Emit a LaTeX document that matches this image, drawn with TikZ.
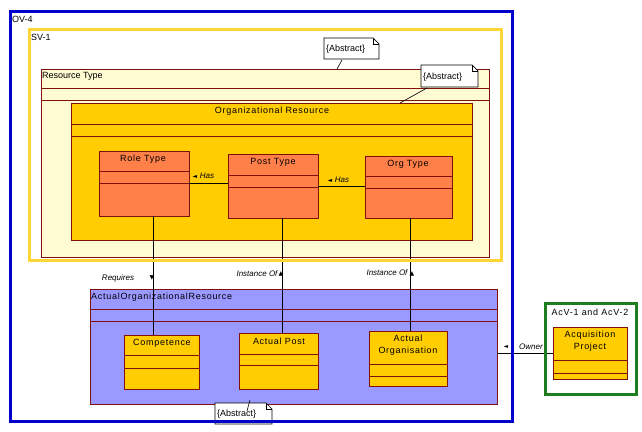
\documentclass[tikz,border=0pt]{standalone}
\usepackage{fontspec}
\setmainfont{Liberation Sans}
\newfontfamily\spfont[LetterSpace=8]{Liberation Sans}
\newfontfamily\dvfont{DejaVu Sans}
\definecolor{ovblue}{HTML}{0000CC}
\definecolor{svyellow}{HTML}{FFD633}
\definecolor{rtfill}{HTML}{FFFBD2}
\definecolor{bord}{HTML}{801010}
\definecolor{gold}{HTML}{FFCD00}
\definecolor{coral}{HTML}{FF8048}
\definecolor{lilac}{HTML}{9999FF}
\definecolor{acgreen}{HTML}{1E7D1E}
\tikzset{
  frame/.style={line width=3pt},
  cls/.style={draw=bord, line width=0.8pt, inner sep=0pt, outer sep=0pt, anchor=north west},
  cline/.style={draw=bord, line width=0.8pt},
  ttl/.style={font=\spfont\fontsize{9}{11}\selectfont, inner sep=0pt, align=center},
  plain/.style={font=\fontsize{9}{11}\selectfont, inner sep=0pt},
  lbl/.style={font=\itshape\fontsize{8}{9}\selectfont, inner sep=0pt},
  mk/.style={font=\dvfont\fontsize{6}{6}\selectfont, inner sep=0pt},
  conn/.style={line width=0.8pt, black},
  notepoly/.style={draw=black, fill=white, line width=0.7pt},
  noteline/.style={draw=black, line width=0.6pt}
}
\newcommand\umlcls[8]{%
  \node[cls, fill=#6, minimum width={(#4-#2)*1pt}, minimum height={(#5-#3)*1pt}] (#1) at (#2,#3) {};
  \draw[cline] (#1.west |- 0,#7) -- (#1.east |- 0,#7);
  \draw[cline] (#1.west |- 0,#8) -- (#1.east |- 0,#8);
}
\newcommand\abstractnote[5]{%
  \draw[notepoly] (#2,#3) -- ({#4-6},#3) -- (#4,{#3+6}) -- (#4,#5) -- (#2,#5) -- cycle;
  \draw[notepoly, fill=none] ({#4-6},#3) -- ({#4-6},{#3+6}) -- (#4,{#3+6});
  \node[plain, anchor=west] (#1) at ({#2+2},{(#3+#5)/2+1}) {\{Abstract\}};
}
\begin{document}
\begin{tikzpicture}[x=1pt, y=-1pt]
\fill[white] (0,0) rectangle (642,431);
\useasboundingbox (0,0) rectangle (642,431);

% Resource Type
\umlcls{RT}{41}{69}{489}{257}{rtfill}{88}{100}
\node[plain, anchor=west] (RTt) at (42,76) {Resource Type};
% Organizational Resource
\umlcls{OR}{71}{103}{472}{240}{gold}{124}{136}
\node[ttl] (ORt) at (272,111) {Organizational Resource};
% types
\umlcls{Role}{99}{151}{189}{216}{coral}{171}{183}
\node[ttl] (Rolet) at (143,159) {Role Type};
\umlcls{Post}{228}{154}{318}{218}{coral}{175}{187}
\node[ttl] (Postt) at (273,162) {Post Type};
\umlcls{Org}{365}{156}{452}{218}{coral}{176}{188}
\node[ttl] (Orgt) at (408,164) {Org Type};

% Actual Organizational Resource
\umlcls{AOR}{90}{289}{497}{404}{lilac}{309}{321}
\node[ttl, anchor=west] (AORt) at (91,297) {ActualOrganizationalResource};
\umlcls{Comp}{124}{335}{199}{389}{gold}{355}{368}
\node[ttl] (Compt) at (162,343) {Competence};
\umlcls{APost}{239}{333}{318}{389}{gold}{354}{365}
\node[ttl] (APostt) at (279,341) {Actual Post};
\umlcls{AOrg}{369}{331}{447}{386}{gold}{364}{376}
\node[ttl] (AOrgt) at (408,345) {Actual\\[1pt]Organisation};

% Acquisition
\umlcls{AcqP}{553}{327}{627}{379}{gold}{360}{373}
\node[ttl] (AcqPt) at (590,341) {Acquisition\\[1pt]Project};
\node[ttl] (AcVt) at (590,312) {AcV-1 and AcV-2};

% connectors
\draw[conn] (Role.east) -- (Role.east -| Post.west);
\draw[conn] (Post.east) -- (Post.east -| Org.west);
\draw[conn] ([xshift=9pt]Role.south) -- ([xshift=9pt]Role.south |- Comp.north);
\draw[conn] ([xshift=9pt]Post.south) -- ([xshift=9pt]Post.south |- APost.north);
\draw[conn] ([xshift=1.5pt]Org.south) -- ([xshift=1.5pt]Org.south |- AOrg.north);
\draw[conn] (AcqP.west) -- (AcqP.west -| AOR.east);

% labels
\node[mk] (m1) at (195,177) {◄};
\node[lbl] (l1) at (207,176) {Has};
\node[mk] (m2) at (330,181) {◄};
\node[lbl] (l2) at (342,180) {Has};
\node[lbl] (l3) at (118,278) {Requires};
\node[mk] (m3) at (152,278) {▼};
\node[lbl] (l4) at (257,274) {Instance Of};
\node[mk] (m4) at (281,274) {▲};
\node[lbl] (l5) at (387,273) {Instance Of};
\node[mk] (m5) at (412,274) {▲};
\node[mk] (m6) at (506,347) {◄};
\node[lbl] (l6) at (531,347) {Owner};

% notes
\abstractnote{n1}{324}{38}{379}{59}
\coordinate (n1a) at (342,60);
\coordinate (n1b) at (337,69);
\draw[noteline] (n1a) -- (n1b);
\abstractnote{n2}{421}{65}{478}{87}
\coordinate (n2a) at (427,88);
\coordinate (n2b) at (400,103);
\draw[noteline] (n2a) -- (n2b);
\abstractnote{n3}{215}{403}{272}{424}
\coordinate (n3a) at (250,400);
\coordinate (n3b) at (247,411);
\draw[noteline] (n3a) -- (n3b);

% frames
\draw[frame, draw=svyellow] (29.5,29.5) rectangle (501.5,260.5);
\node[plain, anchor=west] (SVt) at (31,37) {SV-1};
\draw[frame, draw=ovblue] (10.5,11.5) rectangle (512.5,421.5);
\node[plain, anchor=west] (OVt) at (12,19) {OV-4};
\draw[frame, draw=acgreen] (545.5,303.5) rectangle (636,394);
\end{tikzpicture}
\end{document}
